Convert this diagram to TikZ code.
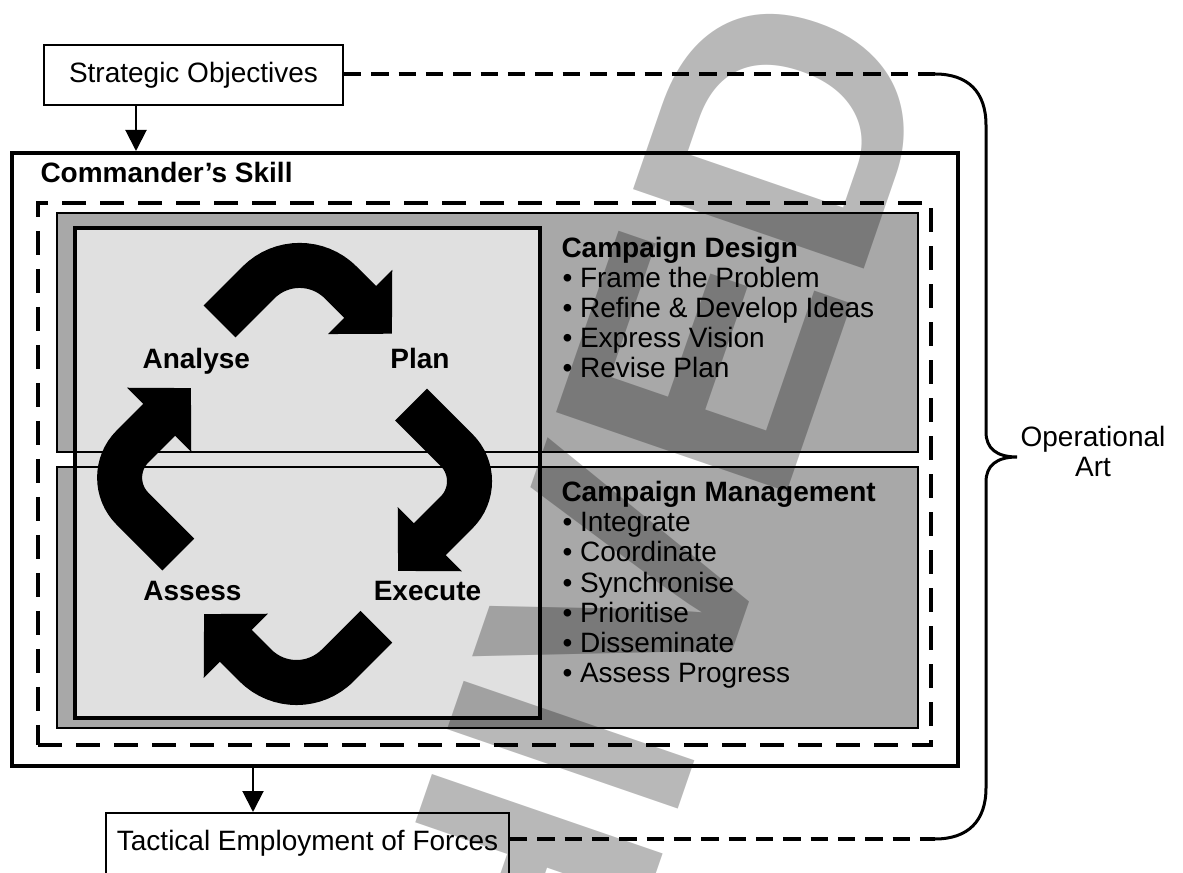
\documentclass[tikz,border=0pt]{standalone}
\usepackage{fontspec}
\setmainfont{Liberation Sans}
\usetikzlibrary{arrows.meta}

\definecolor{panelgray}{RGB}{168,168,168}
\definecolor{cyclegray}{RGB}{224,224,224}

\tikzset{every picture/.style={line width=0.75pt}}
\tikzset{
  labelbox/.style={draw, line width=1.3pt, fill=white, font=\fontsize{21}{25}\selectfont},
  skillbox/.style={draw, line width=3pt},
  scopebox/.style={draw, line width=3pt, dash pattern=on 18pt off 10.5pt},
  phasebox/.style={draw, line width=1.5pt, fill=panelgray, outer sep=0pt},
  cyclebox/.style={draw, line width=2.5pt, fill=cyclegray},
  linkarrow/.style={line width=1.5pt, -{Triangle[length=15.75pt,width=15.75pt]}},
  dashlink/.style={line width=2.5pt, dash pattern=on 13pt off 7.5pt},
  bracket/.style={line width=2.25pt},
  cyclearrow/.style={line width=33.75pt, -{Triangle[length=33.75pt,width=66pt]}},
  steplabel/.style={font=\fontsize{21}{25}\selectfont\bfseries, anchor=base, inner sep=0pt},
  listitem/.style={font=\fontsize{21}{25}\selectfont, anchor=base west, inner sep=0pt},
  listhead/.style={font=\fontsize{21}{25}\selectfont\bfseries, anchor=base west, inner sep=0pt},
  stampword/.style={font=\fontsize{266}{266}\selectfont\bfseries, inner sep=0pt, opacity=0.28},
}

\begin{document}
\begin{tikzpicture}[x=0.75pt,y=0.75pt,yscale=-1,xscale=1]
\useasboundingbox (0,0) rectangle (1183,873);
\clip (0,0) rectangle (1183,873);

%Shape: outer frame
\node[skillbox, minimum width=709.5pt, minimum height=459.75pt] (skill) at (485,459.5) {};
\node[listhead] (skilltitle) at (40,183) {Commander’s Skill};
%Shape: dashed frame
\node[scopebox, minimum width=669.75pt, minimum height=406.5pt] (scope) at (484.5,474) {};

%Shape: design and management panels
\node[phasebox, minimum width=645.75pt, minimum height=179.25pt] (design) at (487.5,332.5) {};
\node[phasebox, minimum width=645.75pt, minimum height=195.75pt] (manage) at (487.5,597.5) {};
\node[cyclebox, minimum width=348.75pt, minimum height=367.5pt] (cycle) at (307.5,473) {};
\draw[line width=1.5pt] (design.south west) -- (design.south east);
\draw[line width=1.5pt] (manage.north west) -- (manage.north east);

%Cycle arrows
\coordinate (t1) at (219.5,321.5); \coordinate (c1) at (299.6,241.4); \coordinate (h1) at (392,333.8);
\coordinate (t2) at (411,404.5);   \coordinate (c2) at (487.75,481.25); \coordinate (h2) at (398,571);
\coordinate (t3) at (376.3,626.8); \coordinate (c3) at (296.55,706.55); \coordinate (h3) at (204,614);
\coordinate (t4) at (178.3,554.5); \coordinate (c4) at (101.4,477.6); \coordinate (h4) at (191,388);
\draw[cyclearrow, rounded corners=43.5pt] (t1) -- (c1) -- (h1);
\draw[cyclearrow, rounded corners=33pt] (t2) -- (c2) -- (h2);
\draw[cyclearrow, rounded corners=43.5pt] (t3) -- (c3) -- (h3);
\draw[cyclearrow, rounded corners=33pt] (t4) -- (c4) -- (h4);

% Text Node
\node[steplabel] (analyse) at (196.3,369) {Analyse};
\node[steplabel] (plan) at (420,369) {Plan};
\node[steplabel] (assess) at (192.5,600.7) {Assess};
\node[steplabel] (execute) at (427.5,600.7) {Execute};

% Text Node
\node[listhead] (designhead) at (561,258) {Campaign Design};
\foreach \entry [count=\i] in {Frame the Problem, Refine \& Develop Ideas, Express Vision, Revise Plan}
  \node[listitem] (design\i) at (562,258+30*\i) {\textbullet\ \entry};
\node[listhead] (managehead) at (561,501.5) {Campaign Management};
\foreach \entry [count=\i] in {Integrate, Coordinate, Synchronise, Prioritise, Disseminate, Assess Progress}
  \node[listitem] (manage\i) at (562,501.5+30.2*\i) {\textbullet\ \entry};

%Shape: objectives and forces
\node[labelbox, minimum width=224.25pt, minimum height=45pt] (strat) at (193.5,75) {Strategic Objectives};
\node[labelbox, anchor=north, minimum width=302.25pt, text height=15pt, text depth=40pt, inner ysep=13.5pt] (tact) at (307.5,812) {Tactical Employment of Forces};

%Straight Lines
\coordinate (sx) at (136,0);
\coordinate (tx) at (253,0);
\draw[linkarrow] (strat.south -| sx) -- (skill.north -| sx);
\draw[linkarrow] (skill.south -| tx) -- (tact.north -| tx);

%Brace
\coordinate (bracetop) at (935,74);
\coordinate (bracetip) at (1017,457);
\coordinate (bracebot) at (935,839);
\draw[dashlink] (strat.east |- bracetop) -- (bracetop);
\draw[dashlink] (tact.east |- bracebot) -- (bracebot);
\draw[bracket] (bracetop) .. controls (968,74) and (986,92) .. (986,125) -- (986,432)
  .. controls (986,448) and (996,457) .. (bracetip)
  .. controls (996,457) and (986,466) .. (986,482) -- (986,788)
  .. controls (986,821) and (968,839) .. (bracebot);
\node[align=center, font=\fontsize{21}{22.5}\selectfont, inner sep=0pt] (opart) at (1093,451) {Operational\\Art};

% Stamp
\node[stampword, rotate=71, anchor=base west] (stamp) at (337,1800.6) {ARCHIVED};

\end{tikzpicture}
\end{document}
